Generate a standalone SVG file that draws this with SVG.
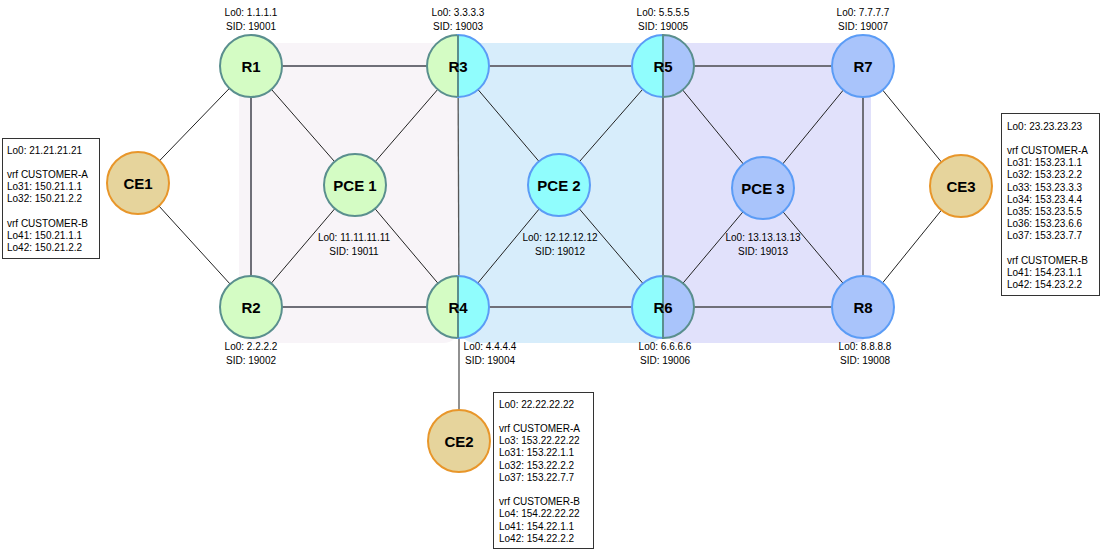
<svg xmlns="http://www.w3.org/2000/svg" width="1101" height="550" viewBox="0 0 1101 550">
<style>
text{font-family:"Liberation Sans",Arial,sans-serif;fill:#000}
.lbl{font-size:15px;font-weight:bold;text-anchor:middle}
.sm{font-size:10px;text-anchor:middle}
.box{font-size:10px}
.thick{stroke:#6f6f78;stroke-width:2;fill:none}
.thin{stroke:#222;stroke-width:1;fill:none}
.g{fill:#d4fcc4;stroke:#5a8f8e;stroke-width:2}
.c{fill:#90fdfd;stroke:#5b9cf6;stroke-width:2}
.b{fill:#a9c4fb;stroke:#5b9cf6;stroke-width:2}
.bt{fill:#a9c4fb;stroke:#5a8f8e;stroke-width:2}
.ce{fill:#e6d49c;stroke:#e8962a;stroke-width:2}
.mid{stroke:#5a8f8e;stroke-width:2}
.ib{fill:#fff;stroke:#333;stroke-width:1}
</style>
<rect width="1101" height="550" fill="#fff"/>
<g id="regions">
<rect x="239" y="43" width="222" height="300" rx="18" fill="#f8f4f8"/>
<rect x="458" y="43" width="208" height="300" rx="18" fill="#d7edfb"/>
<rect x="663" y="43" width="208" height="300" rx="18" fill="#e1e1fb"/>
</g>
<g id="connectors">
<line class="thick" x1="251" y1="66" x2="458" y2="66"/>
<line class="thick" x1="458" y1="66" x2="663" y2="66"/>
<line class="thick" x1="663" y1="66" x2="863" y2="66"/>
<line class="thick" x1="251" y1="307" x2="458" y2="307"/>
<line class="thick" x1="458" y1="307" x2="663" y2="307"/>
<line class="thick" x1="663" y1="307" x2="863" y2="307"/>
<line class="thick" x1="251" y1="66" x2="251" y2="307"/>
<line class="thick" x1="663" y1="66" x2="663" y2="307"/>
<line class="thick" x1="863" y1="66" x2="863" y2="307"/>
<line class="thin" x1="138" y1="183" x2="251" y2="66"/>
<line class="thin" x1="138" y1="183" x2="251" y2="307"/>
<line class="thin" x1="251" y1="66" x2="355" y2="185"/>
<line class="thin" x1="251" y1="307" x2="355" y2="185"/>
<line class="thin" x1="458" y1="66" x2="355" y2="185"/>
<line class="thin" x1="458" y1="307" x2="355" y2="185"/>
<line class="thin" x1="458" y1="66" x2="559" y2="185"/>
<line class="thin" x1="663" y1="66" x2="559" y2="185"/>
<line class="thin" x1="458" y1="307" x2="559" y2="185"/>
<line class="thin" x1="663" y1="307" x2="559" y2="185"/>
<line class="thin" x1="663" y1="66" x2="763" y2="188"/>
<line class="thin" x1="663" y1="307" x2="763" y2="188"/>
<line class="thin" x1="863" y1="66" x2="763" y2="188"/>
<line class="thin" x1="863" y1="307" x2="763" y2="188"/>
<line class="thin" x1="863" y1="66" x2="961" y2="186"/>
<line class="thin" x1="863" y1="307" x2="961" y2="186"/>
<line x1="458" y1="66" x2="459" y2="307" stroke="#555" stroke-width="1.3"/>
<line x1="459" y1="307" x2="459" y2="441" stroke="#555" stroke-width="1.3"/>
</g>
<g id="R1"><circle class="g" cx="251" cy="66" r="31"/><text class="lbl" x="251" y="71.5">R1</text><text class="sm" x="251" y="16">Lo0: 1.1.1.1</text><text class="sm" x="251" y="29.5">SID: 19001</text></g>
<g id="R3"><path class="g" d="M458,35 A31,31 0 0 0 458,97 Z"/><path class="c" d="M458,35 A31,31 0 0 1 458,97 Z"/><line class="mid" x1="458" y1="35" x2="458" y2="97"/><text class="lbl" x="458" y="71.5">R3</text><text class="sm" x="458" y="16">Lo0: 3.3.3.3</text><text class="sm" x="458" y="29.5">SID: 19003</text></g>
<g id="R5"><path class="c" d="M663,35 A31,31 0 0 0 663,97 Z"/><path class="bt" d="M663,35 A31,31 0 0 1 663,97 Z"/><line class="mid" x1="663" y1="35" x2="663" y2="97"/><text class="lbl" x="663" y="71.5">R5</text><text class="sm" x="663" y="16">Lo0: 5.5.5.5</text><text class="sm" x="663" y="29.5">SID: 19005</text></g>
<g id="R7"><circle class="b" cx="863" cy="66" r="31"/><text class="lbl" x="863" y="71.5">R7</text><text class="sm" x="863" y="16">Lo0: 7.7.7.7</text><text class="sm" x="863" y="29.5">SID: 19007</text></g>
<g id="R2"><circle class="g" cx="251" cy="307" r="31"/><text class="lbl" x="251" y="312.5">R2</text><text class="sm" x="251" y="349.5">Lo0: 2.2.2.2</text><text class="sm" x="251" y="363.5">SID: 19002</text></g>
<g id="R4"><path class="g" d="M458,276 A31,31 0 0 0 458,338 Z"/><path class="c" d="M458,276 A31,31 0 0 1 458,338 Z"/><line class="mid" x1="458" y1="276" x2="458" y2="338"/><text class="lbl" x="458" y="312.5">R4</text><text class="sm" x="490" y="349.5">Lo0: 4.4.4.4</text><text class="sm" x="490" y="363.5">SID: 19004</text></g>
<g id="R6"><path class="c" d="M663,276 A31,31 0 0 0 663,338 Z"/><path class="bt" d="M663,276 A31,31 0 0 1 663,338 Z"/><line class="mid" x1="663" y1="276" x2="663" y2="338"/><text class="lbl" x="663" y="312.5">R6</text><text class="sm" x="665" y="349.5">Lo0: 6.6.6.6</text><text class="sm" x="665" y="363.5">SID: 19006</text></g>
<g id="R8"><circle class="b" cx="863" cy="307" r="31"/><text class="lbl" x="863" y="312.5">R8</text><text class="sm" x="865" y="349.5">Lo0: 8.8.8.8</text><text class="sm" x="865" y="363.5">SID: 19008</text></g>
<g id="PCE1"><circle class="g" cx="355" cy="185" r="31"/><text class="lbl" x="355" y="190.5">PCE 1</text><text class="sm" x="354" y="240.5">Lo0: 11.11.11.11</text><text class="sm" x="354" y="255">SID: 19011</text></g>
<g id="PCE2"><circle class="c" cx="559" cy="185" r="31"/><text class="lbl" x="559" y="190.5">PCE 2</text><text class="sm" x="560" y="240.5">Lo0: 12.12.12.12</text><text class="sm" x="560" y="255">SID: 19012</text></g>
<g id="PCE3"><circle class="b" cx="763" cy="188" r="31"/><text class="lbl" x="763" y="193.5">PCE 3</text><text class="sm" x="763" y="240.5">Lo0: 13.13.13.13</text><text class="sm" x="763" y="255">SID: 19013</text></g>
<g id="CE1"><circle class="ce" cx="138" cy="183" r="31"/><text class="lbl" x="138" y="188.5">CE1</text></g>
<g id="CE2"><circle class="ce" cx="459" cy="441" r="31"/><text class="lbl" x="459" y="446.5">CE2</text></g>
<g id="CE3"><circle class="ce" cx="961" cy="186" r="31"/><text class="lbl" x="961" y="191.5">CE3</text></g>
<g id="CE1-info"><rect class="ib" x="2.5" y="138.5" width="97" height="120"/>
<text class="box"><tspan x="7" y="153.5">Lo0: 21.21.21.21</tspan><tspan x="7" y="177.9">vrf CUSTOMER-A</tspan><tspan x="7" y="190.1">Lo31: 150.21.1.1</tspan><tspan x="7" y="202.3">Lo32: 150.21.2.2</tspan><tspan x="7" y="226.7">vrf CUSTOMER-B</tspan><tspan x="7" y="238.9">Lo41: 150.21.1.1</tspan><tspan x="7" y="251.1">Lo42: 150.21.2.2</tspan></text></g>
<g id="CE3-info"><rect class="ib" x="1001.5" y="113.5" width="98" height="182"/>
<text class="box"><tspan x="1007" y="129.5">Lo0: 23.23.23.23</tspan><tspan x="1007" y="153.9">vrf CUSTOMER-A</tspan><tspan x="1007" y="166.1">Lo31: 153.23.1.1</tspan><tspan x="1007" y="178.3">Lo32: 153.23.2.2</tspan><tspan x="1007" y="190.5">Lo33: 153.23.3.3</tspan><tspan x="1007" y="202.7">Lo34: 153.23.4.4</tspan><tspan x="1007" y="214.9">Lo35: 153.23.5.5</tspan><tspan x="1007" y="227.1">Lo36: 153.23.6.6</tspan><tspan x="1007" y="239.3">Lo37: 153.23.7.7</tspan><tspan x="1007" y="263.7">vrf CUSTOMER-B</tspan><tspan x="1007" y="275.9">Lo41: 154.23.1.1</tspan><tspan x="1007" y="288.1">Lo42: 154.23.2.2</tspan></text></g>
<g id="CE2-info"><rect class="ib" x="493.5" y="392.5" width="100" height="156"/>
<text class="box"><tspan x="499" y="407.5">Lo0: 22.22.22.22</tspan><tspan x="499" y="431.9">vrf CUSTOMER-A</tspan><tspan x="499" y="444.1">Lo3: 153.22.22.22</tspan><tspan x="499" y="456.3">Lo31: 153.22.1.1</tspan><tspan x="499" y="468.5">Lo32: 153.22.2.2</tspan><tspan x="499" y="480.7">Lo37: 153.22.7.7</tspan><tspan x="499" y="505.1">vrf CUSTOMER-B</tspan><tspan x="499" y="517.3">Lo4: 154.22.22.22</tspan><tspan x="499" y="529.5">Lo41: 154.22.1.1</tspan><tspan x="499" y="541.7">Lo42: 154.22.2.2</tspan></text></g>
</svg>
